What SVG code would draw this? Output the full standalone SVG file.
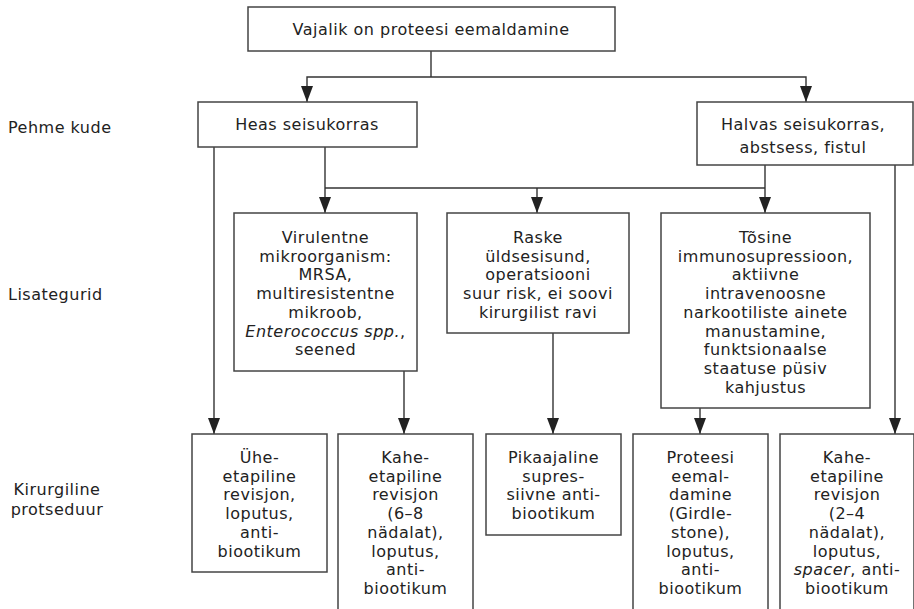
<svg xmlns="http://www.w3.org/2000/svg" width="914" height="609" viewBox="0 0 914 609">
<style>
text{font-family:"DejaVu Sans","Liberation Sans",sans-serif;font-size:16px;letter-spacing:0.5px;fill:#222}
.c{text-anchor:middle}
.box{fill:#fff;stroke:#444;stroke-width:1.5}
.ln{fill:none;stroke:#333;stroke-width:1.4}
.it{font-style:italic}
</style>
<defs>
<marker id="ah" viewBox="0 0 16 12" refX="16" refY="6" markerWidth="16" markerHeight="12" markerUnits="userSpaceOnUse" orient="auto">
<path d="M0,0 L16,6 L0,12 Z" fill="#222"/>
</marker>
</defs>
<rect width="914" height="609" fill="#fff"/>
<g id="labels">
<text x="8" y="133">Pehme kude</text>
<text x="8" y="300">Lisategurid</text>
<text class="c" x="57" y="495">Kirurgiline</text>
<text class="c" x="57" y="515">protseduur</text>
</g>
<g id="connectors">
<path class="ln" d="M431,51 V77"/>
<path class="ln" d="M431,77 H307 V102" marker-end="url(#ah)"/>
<path class="ln" d="M431,77 H806 V102" marker-end="url(#ah)"/>
<path class="ln" d="M214,147 V434" marker-end="url(#ah)"/>
<path class="ln" d="M325,147 V213" marker-end="url(#ah)"/>
<path class="ln" d="M325,188 H765"/>
<path class="ln" d="M537,188 V213" marker-end="url(#ah)"/>
<path class="ln" d="M765,165 V213" marker-end="url(#ah)"/>
<path class="ln" d="M895,165 V434" marker-end="url(#ah)"/>
<path class="ln" d="M404,371 V434" marker-end="url(#ah)"/>
<path class="ln" d="M553,333 V434" marker-end="url(#ah)"/>
<path class="ln" d="M700,408 V434" marker-end="url(#ah)"/>
</g>
<g id="n-top">
<rect class="box" x="248" y="7" width="367" height="44"/>
<text class="c" x="431" y="35">Vajalik on proteesi eemaldamine</text>
</g>
<g id="n-heas">
<rect class="box" x="198" y="102" width="219" height="45"/>
<text class="c" x="307" y="130">Heas seisukorras</text>
</g>
<g id="n-halvas">
<rect class="box" x="697" y="102" width="216" height="63"/>
<text class="c" x="803" y="130">Halvas seisukorras,</text>
<text class="c" x="803" y="153">abstsess, fistul</text>
</g>
<g id="n-virulentne">
<rect class="box" x="234" y="213" width="183" height="158"/>
<text class="c" x="325.5" y="243">Virulentne</text>
<text class="c" x="325.5" y="262">mikroorganism:</text>
<text class="c" x="325.5" y="280">MRSA,</text>
<text class="c" x="325.5" y="299">multiresistentne</text>
<text class="c" x="325.5" y="318">mikroob,</text>
<text class="c" x="325.5" y="337"><tspan class="it">Enterococcus spp.</tspan>,</text>
<text class="c" x="325.5" y="355">seened</text>
</g>
<g id="n-raske">
<rect class="box" x="447" y="213" width="182" height="120"/>
<text class="c" x="538" y="243">Raske</text>
<text class="c" x="538" y="262">üldsesisund,</text>
<text class="c" x="538" y="280">operatsiooni</text>
<text class="c" x="538" y="299">suur risk, ei soovi</text>
<text class="c" x="538" y="318">kirurgilist ravi</text>
</g>
<g id="n-tosine">
<rect class="box" x="661" y="213" width="209" height="195"/>
<text class="c" x="765.5" y="243">Tõsine</text>
<text class="c" x="765.5" y="262">immunosupressioon,</text>
<text class="c" x="765.5" y="280">aktiivne</text>
<text class="c" x="765.5" y="299">intravenoosne</text>
<text class="c" x="765.5" y="318">narkootiliste ainete</text>
<text class="c" x="765.5" y="337">manustamine,</text>
<text class="c" x="765.5" y="355">funktsionaalse</text>
<text class="c" x="765.5" y="374">staatuse püsiv</text>
<text class="c" x="765.5" y="393">kahjustus</text>
</g>
<g id="n-uhe">
<rect class="box" x="192" y="434" width="135" height="138"/>
<text class="c" x="259.5" y="463">Ühe-</text>
<text class="c" x="259.5" y="482">etapiline</text>
<text class="c" x="259.5" y="500">revisjon,</text>
<text class="c" x="259.5" y="519">loputus,</text>
<text class="c" x="259.5" y="538">anti-</text>
<text class="c" x="259.5" y="557">biootikum</text>
</g>
<g id="n-kahe1">
<rect class="box" x="338" y="434" width="135" height="190"/>
<text class="c" x="405.5" y="463">Kahe-</text>
<text class="c" x="405.5" y="482">etapiline</text>
<text class="c" x="405.5" y="500">revisjon</text>
<text class="c" x="405.5" y="519">(6–8</text>
<text class="c" x="405.5" y="538">nädalat),</text>
<text class="c" x="405.5" y="557">loputus,</text>
<text class="c" x="405.5" y="575">anti-</text>
<text class="c" x="405.5" y="594">biootikum</text>
</g>
<g id="n-pikaajaline">
<rect class="box" x="486" y="434" width="135" height="101"/>
<text class="c" x="553.5" y="463">Pikaajaline</text>
<text class="c" x="553.5" y="482">supres-</text>
<text class="c" x="553.5" y="500">siivne anti-</text>
<text class="c" x="553.5" y="519">biootikum</text>
</g>
<g id="n-proteesi">
<rect class="box" x="633" y="434" width="135" height="190"/>
<text class="c" x="700.5" y="463">Proteesi</text>
<text class="c" x="700.5" y="482">eemal-</text>
<text class="c" x="700.5" y="500">damine</text>
<text class="c" x="700.5" y="519">(Girdle-</text>
<text class="c" x="700.5" y="538">stone),</text>
<text class="c" x="700.5" y="557">loputus,</text>
<text class="c" x="700.5" y="575">anti-</text>
<text class="c" x="700.5" y="594">biootikum</text>
</g>
<g id="n-kahe2">
<rect class="box" x="780" y="434" width="134" height="190"/>
<text class="c" x="847" y="463">Kahe-</text>
<text class="c" x="847" y="482">etapiline</text>
<text class="c" x="847" y="500">revisjon</text>
<text class="c" x="847" y="519">(2–4</text>
<text class="c" x="847" y="538">nädalat),</text>
<text class="c" x="847" y="557">loputus,</text>
<text class="c" x="847" y="575"><tspan class="it">spacer</tspan>, anti-</text>
<text class="c" x="847" y="594">biootikum</text>
</g>
</svg>
